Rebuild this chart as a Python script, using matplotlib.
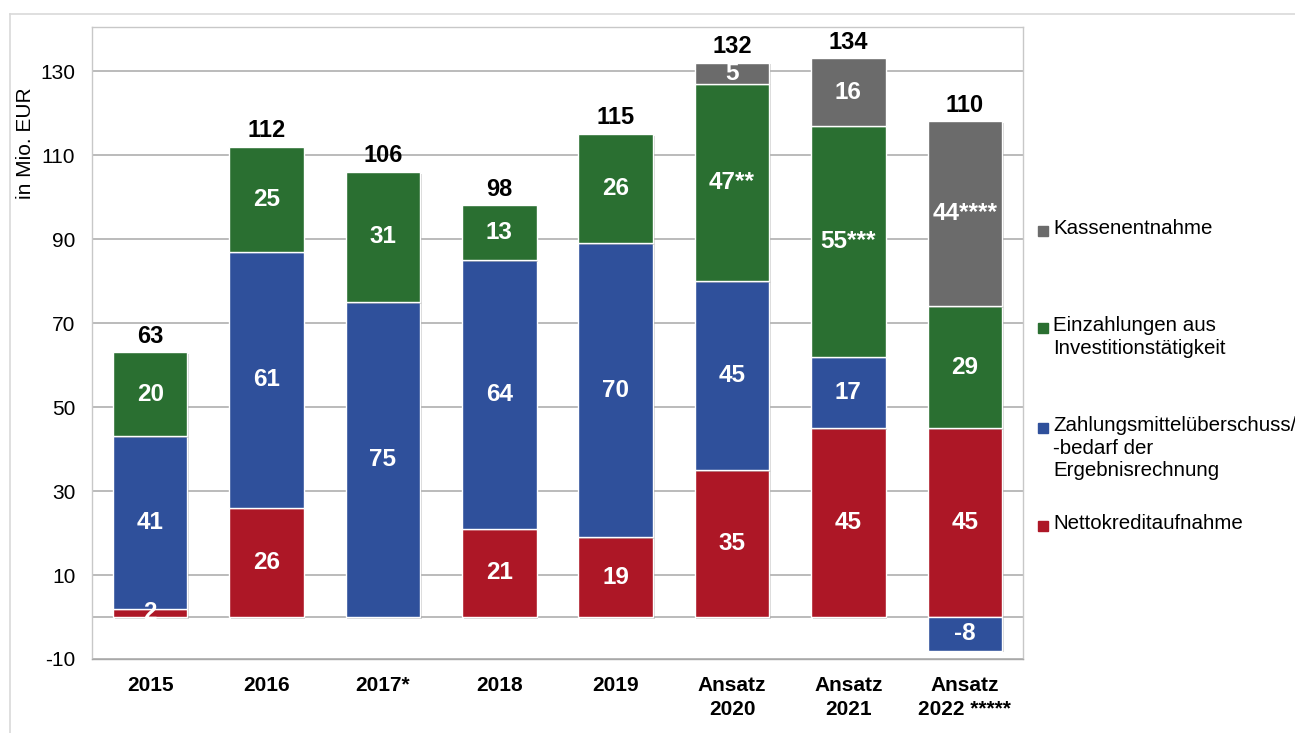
import matplotlib
matplotlib.use("Agg")
import matplotlib.pyplot as plt
import matplotlib.patheffects as pe
from matplotlib.patches import Rectangle
from matplotlib.lines import Line2D
import numpy as np

plt.rcParams['font.family'] = ['Liberation Sans', 'DejaVu Sans']
plt.rcParams['axes.unicode_minus'] = False

categories = ["2015", "2016", "2017*", "2018", "2019",
              "Ansatz\n2020", "Ansatz\n2021", "Ansatz\n2022 *****"]

netto = [2, 26, 0, 21, 19, 35, 45, 45]
zahlung = [41, 61, 75, 64, 70, 45, 17, -8]
einzahlung = [20, 25, 31, 13, 26, 47, 55, 29]
kasse = [0, 0, 0, 0, 0, 5, 16, 44]

totals = [63, 112, 106, 98, 115, 132, 134, 110]

einz_labels = ["20", "25", "31", "13", "26", "47**", "55***", "29"]
kasse_labels = ["", "", "", "", "", "5", "16", "44****"]

series_names = ["Kassenentnahme",
                "Einzahlungen aus\nInvestitionstätigkeit",
                "Zahlungsmittelüberschuss/\n-bedarf der\nErgebnisrechnung",
                "Nettokreditaufnahme"]

c_red = "#AD1726"
c_blue = "#2F509B"
c_green = "#2A6F31"
c_gray = "#6B6B6B"
series_colors = [c_gray, c_green, c_blue, c_red]

W, H = 1295, 733
fig = plt.figure(figsize=(W / 100, H / 100), dpi=100)
ax = fig.add_axes([92 / W, 1 - 659 / H, (1023 - 92) / W, (659 - 27) / H])

x = np.arange(len(categories))
bw = 0.64
shadow = [pe.SimplePatchShadow(offset=(1.2, -1.2), shadow_rgbFace='#888888', alpha=0.35),
          pe.Normal()]


def stack(xs, values, bottoms, color):
    bars = ax.bar(xs, values, bw, bottom=bottoms, color=color,
                  edgecolor='white', linewidth=1.0, zorder=3)
    for b in bars:
        b.set_path_effects(shadow)
    return bars


netto_a = np.array(netto, float)
zahl_a = np.array(zahlung, float)
einz_a = np.array(einzahlung, float)
kasse_a = np.array(kasse, float)

# positive parts stack upward from zero, negative parts downward
pos_base = np.zeros(len(x))
neg_base = np.zeros(len(x))

stack(x, netto_a, pos_base.copy(), c_red)
pos_base += netto_a

zahl_bottom = np.where(zahl_a >= 0, pos_base, neg_base)
stack(x, zahl_a, zahl_bottom, c_blue)
pos_base = pos_base + np.where(zahl_a >= 0, zahl_a, 0)
neg_base = neg_base + np.where(zahl_a < 0, zahl_a, 0)

einz_bottom = pos_base.copy()
stack(x, einz_a, einz_bottom, c_green)
pos_base += einz_a

kasse_bottom = pos_base.copy()
mask = kasse_a > 0
stack(x[mask], kasse_a[mask], kasse_bottom[mask], c_gray)
pos_base += kasse_a

lab_kw = dict(ha='center', va='center', color='white', fontsize=17.5,
              fontweight='bold', zorder=5)

for i in range(len(x)):
    if netto_a[i] != 0:
        ax.text(x[i], netto_a[i] / 2, str(netto[i]), **lab_kw)
    ax.text(x[i], zahl_bottom[i] + zahl_a[i] / 2, str(zahlung[i]), **lab_kw)
    ax.text(x[i], einz_bottom[i] + einz_a[i] / 2, einz_labels[i], **lab_kw)
    if kasse_a[i] > 0:
        ax.text(x[i], kasse_bottom[i] + kasse_a[i] / 2, kasse_labels[i], **lab_kw)
    ax.annotate(str(totals[i]), (x[i], pos_base[i]), xytext=(0, 3.5),
                textcoords='offset points', ha='center', va='bottom',
                fontsize=17, fontweight='bold', color='black', zorder=5)

ax.set_xlim(-0.5, len(x) - 0.5)
ax.set_ylim(-10, 140.5)
ax.set_yticks(np.arange(-10, 131, 20))
ax.set_xticks(x)
ax.set_xticklabels(categories, fontsize=15, fontweight='bold', linespacing=1.35)
ax.tick_params(axis='y', length=0, pad=12, labelsize=15)
ax.tick_params(axis='x', length=0, pad=12)
ax.grid(axis='y', color='#A8A8A8', linewidth=1.1, zorder=0)
ax.axhline(0, color='#A8A8A8', linewidth=1.1, zorder=1)
for s in ax.spines.values():
    s.set_color('#C8C8C8')
    s.set_linewidth(1.0)
ax.spines['bottom'].set_color('#A8A8A8')

ax.set_ylabel("in Mio. EUR", fontsize=15)
ax.yaxis.set_label_coords(-0.061, 0.816)

# legend on the right
leg_y = [231, 328, 428, 526]
for name, col, yy in zip(series_names, series_colors, leg_y):
    fig.patches.append(Rectangle((1038 / W, 1 - (yy + 5) / H), 10 / W, 10 / H,
                                 transform=fig.transFigure, color=col))
    fig.text(1053 / W, 1 - (yy - 12) / H, name, fontsize=14.8, va='top', ha='left',
             linespacing=1.25)

# outer frame
fig.add_artist(Line2D([10 / W, 10 / W], [0, 1 - 14 / H], transform=fig.transFigure,
                      color='#D9D9D9', linewidth=1.2))
fig.add_artist(Line2D([10 / W, 1], [1 - 14 / H, 1 - 14 / H], transform=fig.transFigure,
                      color='#D9D9D9', linewidth=1.2))

fig.savefig("out.png", dpi=100)
